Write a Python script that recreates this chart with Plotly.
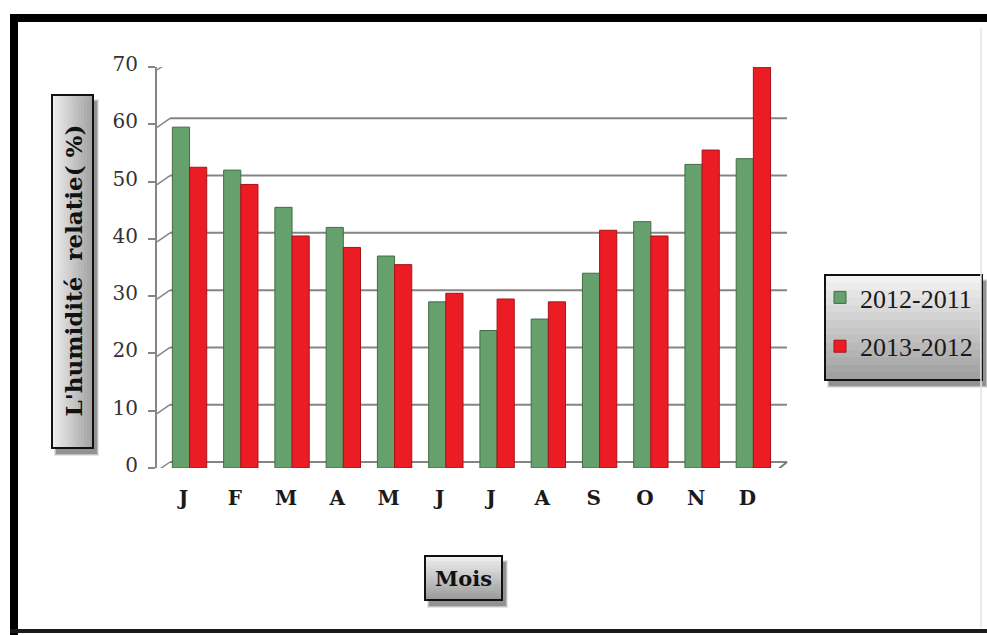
import plotly.graph_objects as go

# Monthly relative humidity (%) for two seasons
months = ["J", "F", "M", "A", "M", "J", "J", "A", "S", "O", "N", "D"]
hum_2012_2011 = [59.5, 52, 45.5, 42, 37, 29, 24, 26, 34, 43, 53, 54]
hum_2013_2012 = [52.5, 49.5, 40.5, 38.5, 35.5, 30.5, 29.5, 29, 41.5, 40.5, 55.5, 70]
y_ticks = [0, 10, 20, 30, 40, 50, 60, 70]

GREEN = "#66a06c"
GREEN_DARK = "#3f6e45"
RED = "#ec1c24"
RED_DARK = "#a8121a"

W, H = 987, 635
L, R, T, B = 157, 208, 67, 167
PW, PH = W - L - R, H - T - B


def px(x):
    """Pixel column -> paper x."""
    return (x - L) / PW


def py(y):
    """Pixel row -> paper y."""
    return (H - B - y) / PH


xpos = list(range(len(months)))

fig = go.Figure()
fig.add_trace(go.Bar(x=xpos, y=hum_2012_2011, name="2012-2011", legendgroup="a",
                     marker=dict(color=GREEN, line=dict(color=GREEN_DARK, width=1))))
fig.add_trace(go.Bar(x=xpos, y=hum_2013_2012, name="2013-2012", legendgroup="b",
                     marker=dict(color=RED, line=dict(color=RED_DARK, width=1))))

shapes = []
GRID = "#858585"

# back wall gridlines, lifted to give the depth effect
for v in y_ticks:
    shapes.append(dict(type="line", xref="paper", x0=px(170), x1=px(787),
                       yref="y", ysizemode="pixel", yanchor=v, y0=6, y1=6,
                       line=dict(color=GRID, width=2), layer="below"))
    # short diagonal from the front axis to the back wall
    shapes.append(dict(type="line", xref="paper", xsizemode="pixel", xanchor=0,
                       x0=0, x1=13, yref="y", ysizemode="pixel", yanchor=v,
                       y0=-3, y1=6, line=dict(color=GRID, width=1.5), layer="below"))

# floor front edge and right side
shapes.append(dict(type="line", xref="paper", x0=px(150), x1=px(776),
                   yref="y", ysizemode="pixel", yanchor=0, y0=-3, y1=-3,
                   line=dict(color="#7a7a7a", width=3), layer="above"))
shapes.append(dict(type="line", xref="paper", xsizemode="pixel", xanchor=px(776),
                   x0=0, x1=11, yref="y", ysizemode="pixel", yanchor=0,
                   y0=-3, y1=6, line=dict(color="#7a7a7a", width=2), layer="above"))


def shadow(x0, y0, x1, y1, dx=4, dy=6):
    for i, op in enumerate([0.10, 0.16, 0.24]):
        g = 2 - i
        shapes.append(dict(type="rect", xref="paper", yref="paper",
                           x0=px(x0 + dx - g), x1=px(x1 + dx + g),
                           y0=py(y0 + dy - g), y1=py(y1 + dy + g),
                           fillcolor=f"rgba(0,0,0,{op})", line=dict(width=0)))


def gradient_box(x0, y0, x1, y1, c0, c1, horizontal, n=14):
    shadow(x0, y0, x1, y1)
    r0, g0, b0 = [int(c0[i:i + 2], 16) for i in (1, 3, 5)]
    r1, g1, b1 = [int(c1[i:i + 2], 16) for i in (1, 3, 5)]
    for k in range(n):
        f = k / (n - 1)
        col = f"rgb({round(r0 + (r1 - r0) * f)},{round(g0 + (g1 - g0) * f)},{round(b0 + (b1 - b0) * f)})"
        if horizontal:
            a = x0 + (x1 - x0) * k / n
            b = x0 + (x1 - x0) * (k + 1) / n
            shapes.append(dict(type="rect", xref="paper", yref="paper",
                               x0=px(a), x1=px(b + 0.5), y0=py(y1), y1=py(y0),
                               fillcolor=col, line=dict(width=0)))
        else:
            a = y0 + (y1 - y0) * k / n
            b = y0 + (y1 - y0) * (k + 1) / n
            shapes.append(dict(type="rect", xref="paper", yref="paper",
                               x0=px(x0), x1=px(x1), y0=py(b + 0.5), y1=py(a),
                               fillcolor=col, line=dict(width=0)))
    shapes.append(dict(type="rect", xref="paper", yref="paper",
                       x0=px(x0), x1=px(x1), y0=py(y1), y1=py(y0),
                       fillcolor="rgba(0,0,0,0)", line=dict(color="#111111", width=2)))


# boxes behind the axis titles and the legend
gradient_box(52, 95, 93, 448, "#ececec", "#a4a4a4", horizontal=True)
gradient_box(425, 556, 502, 600, "#eeeeee", "#9c9c9c", horizontal=False)
gradient_box(825, 275, 982, 380, "#f2f2f2", "#a0a0a0", horizontal=False)

# outer frame
shapes.append(dict(type="line", xref="paper", yref="paper", x0=px(14), x1=px(14),
                   y0=py(14), y1=py(635), line=dict(color="#000000", width=8)))
shapes.append(dict(type="line", xref="paper", yref="paper", x0=px(10), x1=px(987),
                   y0=py(18), y1=py(18), line=dict(color="#000000", width=8)))
shapes.append(dict(type="line", xref="paper", yref="paper", x0=px(10), x1=px(987),
                   y0=py(631), y1=py(631), line=dict(color="#1a1a1a", width=4)))
shapes.append(dict(type="line", xref="paper", yref="paper", x0=px(981), x1=px(981),
                   y0=py(28), y1=py(628), line=dict(color="#e4e4e4", width=1.5)))

annotations = [
    dict(text="L'humidité  relatie( %)", textangle=-90, xref="paper", yref="paper",
         x=px(72.5), y=py(271), xanchor="center", yanchor="middle", showarrow=False,
         font=dict(family="DejaVu Serif", size=23, color="#111111", weight="bold")),
    dict(text="Mois", xref="paper", yref="paper", x=px(463.5), y=py(578),
         xanchor="center", yanchor="middle", showarrow=False,
         font=dict(family="DejaVu Serif", size=21, color="#111111", weight="bold")),
]

fig.update_layout(
    width=W, height=H, autosize=False,
    margin=dict(l=L, r=R, t=T, b=B, autoexpand=False),
    paper_bgcolor="white", plot_bgcolor="white",
    barmode="group", bargap=0.33, bargroupgap=0,
    showlegend=True,
    legend=dict(xref="container", yref="container", x=820 / W, y=1 - 274 / H,
                xanchor="left", yanchor="top", tracegroupgap=12,
                bgcolor="rgba(0,0,0,0)",
                font=dict(family="Liberation Serif", size=26, color="#1a1a1a")),
    shapes=shapes, annotations=annotations,
    xaxis=dict(range=[-0.635, 11.5], tickmode="array", tickvals=xpos, ticktext=months,
               showgrid=False, zeroline=False, showline=False, ticks="",
               ticklabelstandoff=16, ticklabelshift=-6,
               tickfont=dict(family="DejaVu Serif", size=20, color="#1a1a1a", weight="bold")),
    yaxis=dict(range=[0, 70], tickmode="array", tickvals=y_ticks,
               showgrid=False, zeroline=False, showline=True, linecolor=GRID, linewidth=2,
               ticks="outside", ticklen=7, tickcolor=GRID, tickwidth=1.5,
               ticklabelstandoff=6, ticklabelshift=-3,
               tickfont=dict(family="DejaVu Serif", size=20, color="#333333")),
)

fig.write_html("out.html")
